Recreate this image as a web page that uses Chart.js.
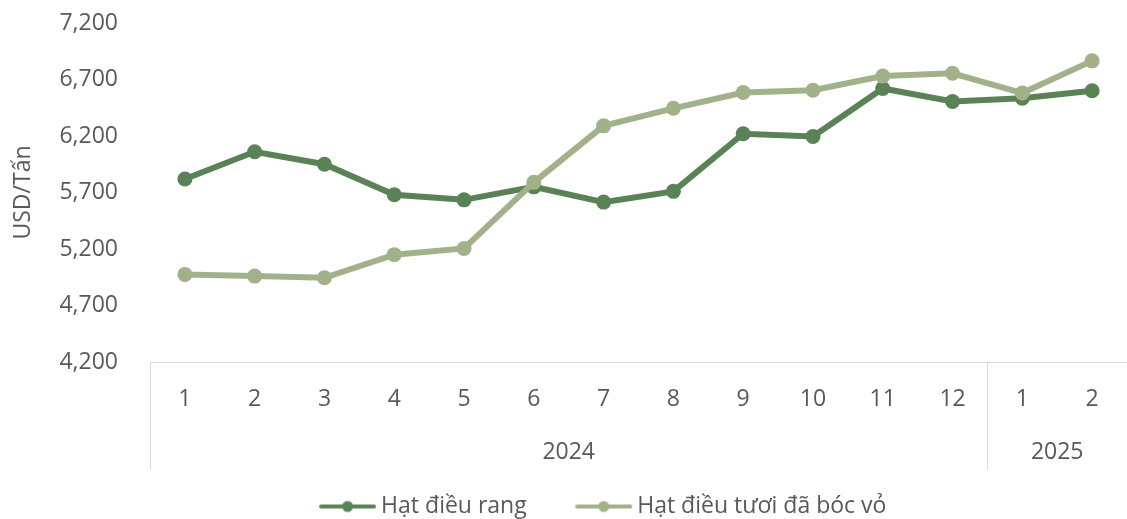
<!DOCTYPE html>
<html lang="vi">
<head>
    <meta charset="UTF-8">
    <title>Giá hạt điều</title>
    <script src="https://cdn.jsdelivr.net/npm/chart.js"></script>
    <style>
        body { margin: 0; background: #fff; }
        #wrap { width: 1127px; height: 519px; position: relative; }
    </style>
</head>
<body>
<div id="wrap"><canvas id="priceChart"></canvas></div>
<script>
    // months along the bottom, grouped by year
    const months = ['1', '2', '3', '4', '5', '6', '7', '8', '9', '10', '11', '12', '1', '2'];
    const years = ['2024', '2025'];
    const monthsPerYear = [12, 2];

    // USD per tonne
    const roasted = [5820, 6060, 5950, 5680, 5635, 5750, 5615, 5710, 6220, 6195, 6620, 6505, 6535, 6600];
    const shelled = [4975, 4960, 4945, 5150, 5205, 5790, 6290, 6445, 6585, 6605, 6730, 6755, 6580, 6865];

    const yTicks = { min: 4200, max: 7200, step: 500 };

    const darkGreen = '#5a8257';
    const lightGreen = '#a3b18a';
    const textColor = '#595959';
    const axisColor = '#d9d9d9';
    const fontFamily = '"Open Sans", sans-serif';
    const fontSize = 23;

    // little line + dot swatch for the legend
    function legendSwatch(color) {
        const c = document.createElement('canvas');
        c.width = 59;
        c.height = 14;
        const g = c.getContext('2d');
        g.strokeStyle = color;
        g.lineWidth = 4;
        g.lineCap = 'round';
        g.beginPath();
        g.moveTo(3, 7);
        g.lineTo(56, 7);
        g.stroke();
        g.fillStyle = color;
        g.beginPath();
        g.arc(29.5, 7, 5.5, 0, Math.PI * 2);
        g.fill();
        return c;
    }

    // second row of x labels: the year under its months, with dividers
    const yearRows = {
        id: 'yearRows',
        afterDraw(chart) {
            const x = chart.scales.x;
            const area = chart.chartArea;
            const ctx = chart.ctx;
            const half = (x.getPixelForValue(1) - x.getPixelForValue(0)) / 2;
            ctx.save();
            ctx.strokeStyle = axisColor;
            ctx.lineWidth = 1;
            ctx.fillStyle = textColor;
            ctx.font = fontSize + 'px ' + fontFamily;
            ctx.textAlign = 'center';
            ctx.textBaseline = 'middle';
            let start = 0;
            years.forEach((year, i) => {
                const end = start + monthsPerYear[i] - 1;
                const left = x.getPixelForValue(start) - half;
                const right = x.getPixelForValue(end) + half;
                ctx.beginPath();
                ctx.moveTo(Math.round(left) + 0.5, area.bottom);
                ctx.lineTo(Math.round(left) + 0.5, area.bottom + 107);
                ctx.stroke();
                ctx.fillText(year, (left + right) / 2, area.bottom + 90);
                start = end + 1;
            });
            ctx.restore();
        }
    };

    // nudge the legend row a bit to the right of the canvas centre
    const legendShift = {
        id: 'legendShift',
        afterLayout(chart) {
            if (chart.legend) chart.legend.left += 81;
        }
    };

    new Chart(document.getElementById('priceChart'), {
        type: 'line',
        data: {
            labels: months,
            datasets: [
                {
                    label: 'Hạt điều rang',
                    data: roasted,
                    borderColor: darkGreen,
                    backgroundColor: darkGreen,
                    borderWidth: 6,
                    pointRadius: 7.5,
                    pointBorderWidth: 0,
                    order: 1
                },
                {
                    label: 'Hạt điều tươi đã bóc vỏ',
                    data: shelled,
                    borderColor: lightGreen,
                    backgroundColor: lightGreen,
                    borderWidth: 6,
                    pointRadius: 7.5,
                    pointBorderWidth: 0,
                    order: 0
                }
            ]
        },
        options: {
            responsive: true,
            maintainAspectRatio: false,
            animation: false,
            layout: { autoPadding: false, padding: { top: 23, right: -4, bottom: -9, left: 0 } },
            plugins: {
                tooltip: { enabled: false },
                legend: {
                    position: 'bottom',
                    labels: {
                        usePointStyle: true,
                        pointStyleWidth: 44,
                        padding: 55,
                        color: textColor,
                        font: { family: fontFamily, size: fontSize },
                        generateLabels(chart) {
                            return chart.data.datasets.map((ds, i) => ({
                                text: ds.label,
                                fontColor: textColor,
                                pointStyle: legendSwatch(ds.borderColor),
                                lineWidth: 0,
                                datasetIndex: i
                            }));
                        }
                    }
                }
            },
            scales: {
                x: {
                    offset: true,
                    grid: { display: false, drawTicks: false },
                    border: { display: true, color: axisColor, width: 1 },
                    ticks: {
                        color: textColor,
                        padding: 24,
                        maxRotation: 0,
                        autoSkip: false,
                        font: { family: fontFamily, size: fontSize }
                    },
                    afterFit(scale) { scale.height = 78; }
                },
                y: {
                    min: yTicks.min,
                    max: yTicks.max,
                    // hidden tick marks keep the labels clear of the plot
                    grid: { display: false, drawTicks: true, tickLength: 30 },
                    border: { display: false },
                    ticks: {
                        stepSize: yTicks.step,
                        color: textColor,
                        padding: 2,
                        font: { family: fontFamily, size: fontSize },
                        callback: v => v.toLocaleString('en-US')
                    },
                    title: {
                        display: true,
                        text: 'USD/Tấn',
                        color: textColor,
                        padding: { top: 10, bottom: 0 },
                        font: { family: fontFamily, size: fontSize }
                    },
                    afterFit(scale) { scale.width = 150; }
                }
            }
        },
        plugins: [yearRows, legendShift]
    });
</script>
</body>
</html>
